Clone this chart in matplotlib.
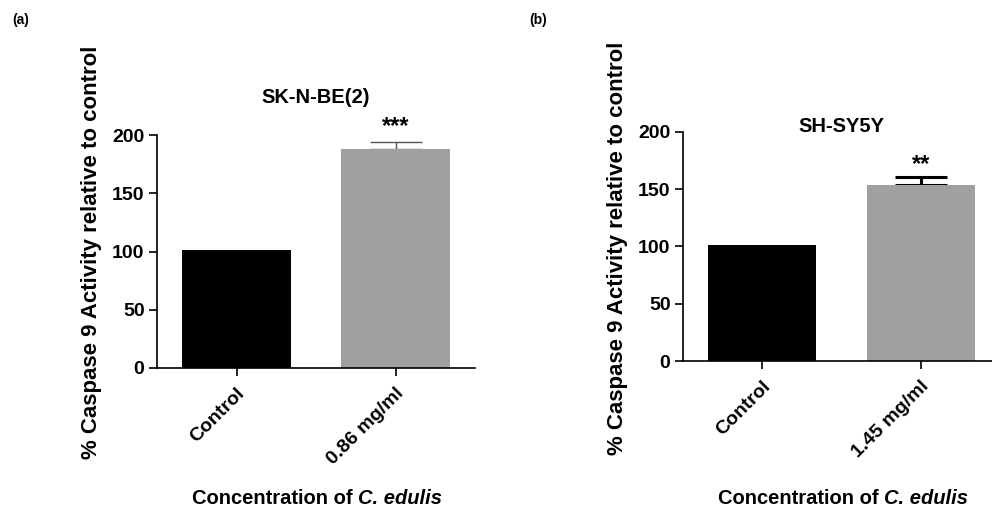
import matplotlib.pyplot as plt

plt.rcParams['font.family'] = ['Liberation Sans', 'DejaVu Sans']
plt.rcParams['font.weight'] = 'bold'

# panel data
categories_a = ["Control", "0.86 mg/ml"]
values_a = [101, 188]
errors_a = [0, 6]
stars_a = "***"

categories_b = ["Control", "1.45 mg/ml"]
values_b = [101, 154]
errors_b = [0, 7]
stars_b = "**"

bar_colors = ["#000000", "#a0a0a0"]
yticks = [0, 50, 100, 150, 200]

W, H = 992, 511
fig = plt.figure(figsize=(W / 100, H / 100), dpi=100)


def px_axes(left, top, right, bottom):
    return fig.add_axes([left / W, 1 - bottom / H, (right - left) / W, (bottom - top) / H])


def draw_panel(ax, cats, vals, errs, title, title_y, stars, star_y, err_color, err_lw):
    x = range(len(cats))
    ax.bar(x, vals, width=0.68, color=bar_colors, zorder=2)
    ax.errorbar([1], [vals[1]], yerr=[[0], [errs[1]]], fmt='none', ecolor=err_color,
                elinewidth=err_lw, capsize=18.5, capthick=err_lw, zorder=1)
    ax.set_xlim(-0.5, 1.5)
    ax.set_ylim(0, 200)
    ax.set_yticks(yticks)
    ax.set_xticks(list(x))
    ax.set_xticklabels(cats, rotation=45, ha='right', rotation_mode='anchor',
                       fontsize=14, fontweight='bold')
    for lab in ax.get_yticklabels():
        lab.set_fontsize(14)
        lab.set_fontweight('bold')
    for side in ['top', 'right']:
        ax.spines[side].set_visible(False)
    for side in ['left', 'bottom']:
        ax.spines[side].set_linewidth(1.2)
    ax.tick_params(axis='both', length=6, width=1.2, pad=3)
    ax.tick_params(axis='x', pad=6)
    ax.text(0.5, title_y, title, transform=ax.transAxes, ha='center', va='center',
            fontsize=14.5, fontweight='bold')
    ax.text(1, star_y, stars, ha='center', va='center', fontsize=17, fontweight='bold')


ax1 = px_axes(157, 135, 475, 368)
draw_panel(ax1, categories_a, values_a, errors_a, "SK-N-BE(2)", 1.163, stars_a, 207,
           "#555555", 1.0)

ax2 = px_axes(683, 132, 1000, 361)
draw_panel(ax2, categories_b, values_b, errors_b, "SH-SY5Y", 1.026, stars_b, 172,
           "#000000", 2.2)

ylabel = "% Caspase 9 Activity relative to control"
fig.text(92 / W, 1 - 252 / H, ylabel, rotation=90, ha='center', va='center',
         fontsize=16, fontweight='bold')
fig.text(618 / W, 1 - 248 / H, ylabel, rotation=90, ha='center', va='center',
         fontsize=16, fontweight='bold')

# x label: plain part + italic species name, centred together
xl_plain, xl_ital = "Concentration of ", "C. edulis"
renderer = fig.canvas.get_renderer()
for cx in [317, 843]:
    tmp = fig.text(0, 0, xl_plain + xl_ital, fontsize=14.5, fontweight='bold')
    total = tmp.get_window_extent(renderer).width
    tmp.remove()
    x0 = cx - total / 2
    t1 = fig.text(x0 / W, 1 - 498 / H, xl_plain, ha='left', va='center',
                  fontsize=14.5, fontweight='bold')
    x1 = t1.get_window_extent(renderer).x1
    fig.text(x1 / W, 1 - 498 / H, xl_ital, ha='left', va='center',
             fontsize=14.5, fontweight='bold', style='italic')

fig.text(21 / W, 1 - 20 / H, "(a)", ha='center', va='center', fontsize=10, fontweight='bold')
fig.text(538 / W, 1 - 20 / H, "(b)", ha='center', va='center', fontsize=10, fontweight='bold')

fig.savefig("out.png", dpi=100)
